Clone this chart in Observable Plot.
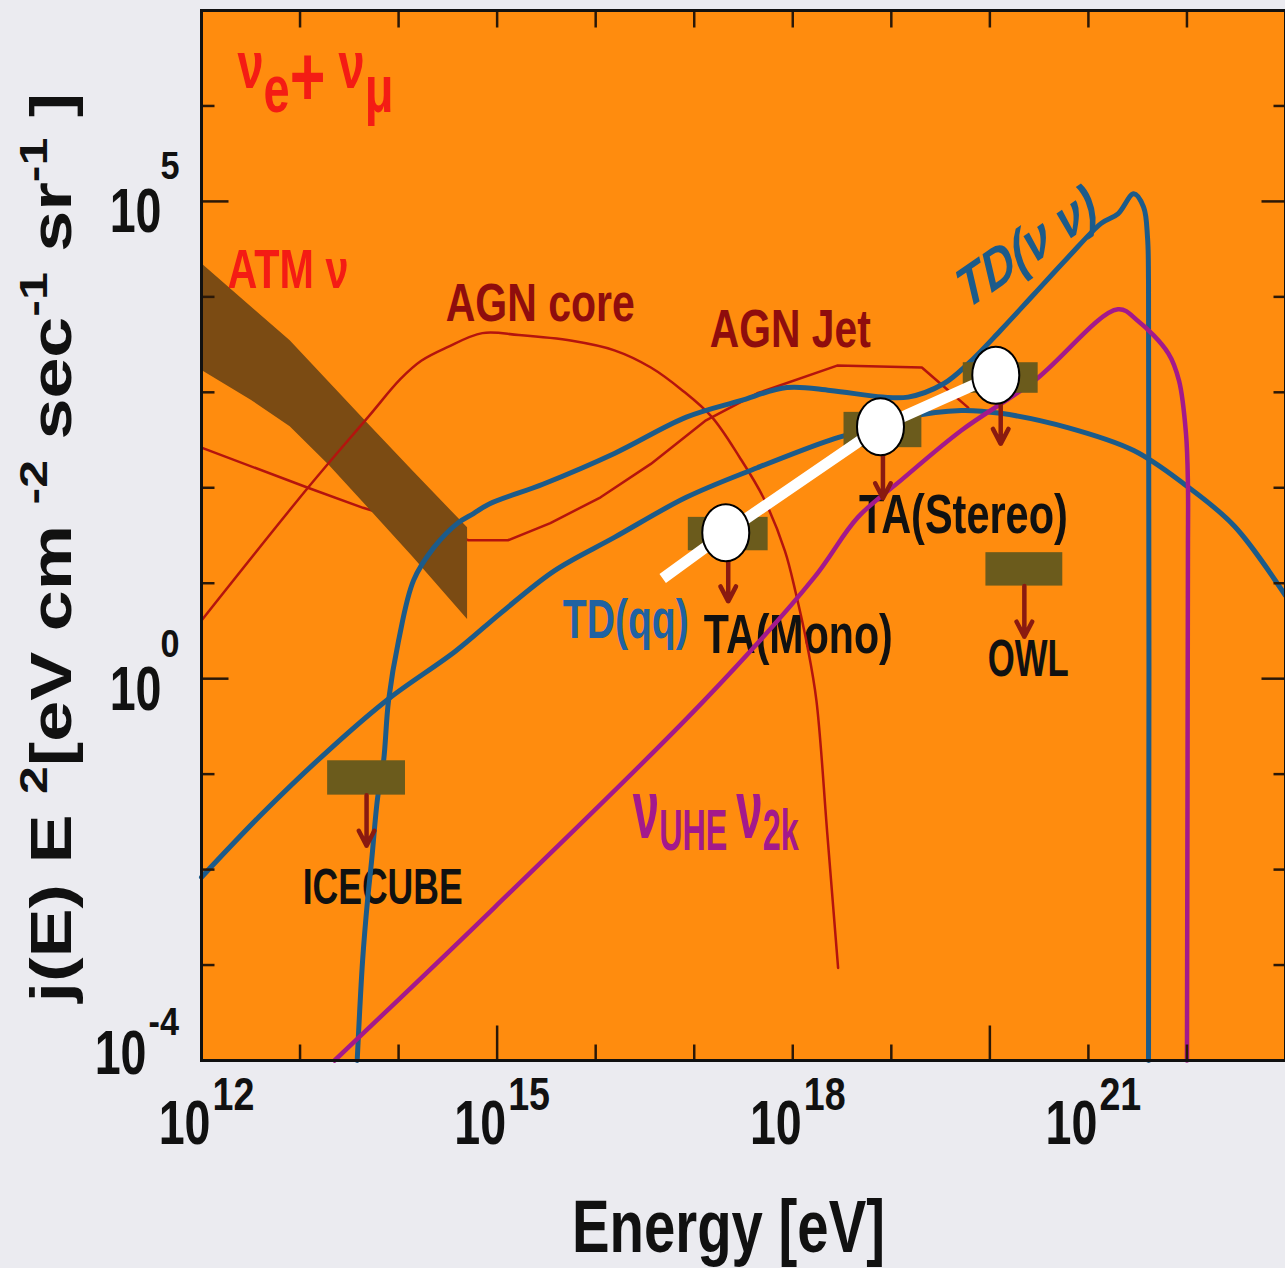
<!DOCTYPE html>
<html>
<head>
<meta charset="utf-8">
<script src="https://cdn.jsdelivr.net/npm/d3@7"></script>
<script src="https://cdn.jsdelivr.net/npm/@observablehq/plot@0.6"></script>
<style>
  html, body { margin: 0; padding: 0; background: #ebebf0; overflow: hidden; }
  #chart { width: 1285px; height: 1268px; }
</style>
</head>
<body>
<div id="chart"></div>
<script>
// ---------- DATA (log10 values: energy in eV, flux in eV cm^-2 s^-1 sr^-1) ----------
const atmE  = [12.0, 12.5, 12.9, 13.3, 13.7, 14.15, 14.7];
const atmHi = [4.35, 3.90, 3.54, 3.10, 2.66, 2.17, 1.58];
const atmLo = [3.23, 2.92, 2.64, 2.23, 1.78, 1.27, 0.62];

const agnCoreE = [12.0, 13.08, 13.69, 14.02, 14.23, 14.49, 14.85, 15.22, 15.76, 16.19, 16.56, 16.88, 17.18, 17.46, 17.70, 17.92, 18.03, 18.15, 18.24, 18.35, 18.46];
const agnCoreF = [0.61, 2.00, 2.74, 3.14, 3.33, 3.47, 3.62, 3.60, 3.54, 3.44, 3.26, 3.02, 2.74, 2.32, 1.90, 1.34, 0.90, 0.33, -0.23, -1.62, -3.03];

const agnJetE = [12.0, 13.08, 13.64, 14.71, 15.11, 15.54, 16.05, 16.56, 17.11, 17.64, 18.45, 19.31, 19.50, 19.78];
const agnJetF = [2.42, 2.00, 1.79, 1.45, 1.45, 1.63, 1.90, 2.25, 2.70, 2.99, 3.28, 3.26, 3.09, 2.84];

const tdNuE = [13.58, 13.635, 13.685, 13.726, 13.787, 13.848, 13.898, 14.0, 14.152, 14.355, 14.60, 14.76, 14.92, 15.47, 16.19, 16.92, 17.46, 17.94, 18.38, 18.91, 19.17, 19.53, 19.78, 20.11, 20.45, 20.79, 21.13, 21.30, 21.46, 21.56, 21.60, 21.61, 21.61];
const tdNuF = [-4.0, -2.95, -2.32, -1.91, -1.25, -0.86, -0.23, 0.40, 1.03, 1.37, 1.63, 1.73, 1.83, 2.04, 2.36, 2.74, 2.91, 3.05, 3.02, 2.95, 2.95, 3.09, 3.30, 3.65, 4.03, 4.41, 4.77, 4.87, 5.08, 4.94, 4.62, 4.14, -4.0];

const tdQqE = [12.0, 12.62, 13.29, 13.90, 14.58, 15.04, 15.58, 16.19, 16.92, 17.64, 18.38, 18.73, 19.17, 19.71, 20.11, 20.79, 21.46, 21.97, 22.48, 23.0];
const tdQqF = [-2.08, -1.41, -0.75, -0.21, 0.29, 0.69, 1.13, 1.48, 1.90, 2.21, 2.50, 2.60, 2.74, 2.81, 2.78, 2.63, 2.39, 2.04, 1.60, 0.87];

const uheE = [13.35, 14.97, 17.10, 18.21, 18.66, 19.10, 19.71, 20.45, 21.30, 21.50, 21.81, 21.92, 21.99, 22.01, 22.01, 22.0];
const uheF = [-4.0, -2.40, -0.23, 1.05, 1.69, 2.08, 2.60, 3.12, 3.87, 3.75, 3.41, 3.12, 2.57, 2.04, 1.34, -4.0];

const boxNames = ["ICECUBE", "TA(Mono)", "TA(Stereo)", "TA", "OWL"];
const boxE1 = [13.28, 16.94, 18.52, 19.73, 19.96];
const boxE2 = [14.07, 17.75, 19.31, 20.49, 20.74];
const boxF1 = [-1.22, 1.34, 2.42, 2.99, 0.97];
const boxF2 = [-0.86, 1.69, 2.79, 3.31, 1.32];

const whiteE = [16.68, 17.32, 18.89, 20.06];
const whiteF = [1.05, 1.53, 2.64, 3.18];
const circleE = [17.32, 18.89, 20.06];
const circleF = [1.53, 2.64, 3.18];

const labelText = ["ν_{e}*{+} ν_{μ}", "ATM ν", "AGN core", "AGN Jet", "TD(ν ν)", "TD(qq)", "TA(Mono)", "TA(Stereo)", "OWL", "ICECUBE", "ν_{UHE }ν_{2k}"];
const labelE = [12.365, 12.264, 15.437, 17.975, 20.376, 16.305, 18.056, 19.731, 20.39, 13.838, 16.376];
const labelF = [6.183, 4.098, 3.742, 3.48, 4.517, 0.431, 0.274, 1.521, 0.033, -2.356, -1.664];

const xTickExp = [12, 15, 18, 21];
const yTickExp = [5, 0];
const yTickExpLow = [-4];
const xDecades = [13, 14, 15, 16, 17, 18, 19, 20, 21, 22];
const xLongBottom = [15, 20];
const yDecades = [-3, -2, -1, 0, 1, 2, 3, 4, 5, 6];
const yLong = [0, 5];

const xTitle = "Energy [eV]";
const yTitle = "j(E) E ^{2}[eV cm ^{-2} sec^{-1} sr^{-1} ]";

// ---------- STYLE ----------
const FONT = "'Liberation Sans', Arial, Helvetica, sans-serif";
const ORANGE = "#ff8c0e", BROWN = "#7b4b13", LINE_RED = "#b4140e", BLUE = "#1c5b8a",
      PURPLE = "#a3198c", OLIVE = "#6b5b1c", ARROW = "#8a1a10", RED = "#f41c14",
      DRED = "#8f0d0d", TICK = "#2a1808";

const LS = [
  {fill: RED, size: 66, anchor: "start", width: 156, rich: {ratio: 1.0, sub: 0.36, big: 1.3, bigShift: -0.27}},
  {fill: RED, size: 56, anchor: "start", width: 121},
  {fill: DRED, size: 53, width: 189},
  {fill: DRED, size: 53, width: 161},
  {fill: BLUE, size: 58, italic: true, rotate: -28, line: "middle", sx: 0.77},
  {fill: "#1f62a2", size: 56, width: 126},
  {fill: "#111", size: 56, width: 189},
  {fill: "#111", size: 56, width: 209},
  {fill: "#111", size: 52, width: 81},
  {fill: "#111", size: 50, width: 160},
  {fill: PURPLE, size: 84, anchor: "start", width: 166, rich: {ratio: 0.68, sub: 0.15}}
];

// ---------- BUILD TABLES ----------
const p10 = v => Math.pow(10, v);
const series = (E, F) => E.map((e, i) => ({e: p10(e), f: p10(F[i])}));
const atm = atmE.map((e, i) => ({e: p10(e), lo: p10(atmLo[i]), hi: p10(atmHi[i])}));
const core = series(agnCoreE, agnCoreF);
const jet = series(agnJetE, agnJetF);
const tdNu = series(tdNuE, tdNuF);
const tdQq = series(tdQqE, tdQqF);
const uhe = series(uheE, uheF);
const white = series(whiteE, whiteF);
const circles = series(circleE, circleF);
const boxes = boxNames.map((n, i) => ({
  name: n, e1: p10(boxE1[i]), e2: p10(boxE2[i]), f1: p10(boxF1[i]), f2: p10(boxF2[i]),
  ec: p10((boxE1[i] + boxE2[i]) / 2), tip: p10(boxF1[i] - 0.53)
}));
const labels = labelText.map((t, i) => ({t, e: p10(labelE[i]), f: p10(labelF[i])}));

// custom symbols
const tick = (dx, dy) => ({draw(ctx) { ctx.moveTo(0, 0); ctx.lineTo(dx, dy); }});
const ellipse = (rx, ry) => ({draw(ctx) {
  const k = 0.5523;
  ctx.moveTo(rx, 0);
  ctx.bezierCurveTo(rx, ry * k, rx * k, ry, 0, ry);
  ctx.bezierCurveTo(-rx * k, ry, -rx, ry * k, -rx, 0);
  ctx.bezierCurveTo(-rx, -ry * k, -rx * k, -ry, 0, -ry);
  ctx.bezierCurveTo(rx * k, -ry, rx, -ry * k, rx, 0);
  ctx.closePath();
}});

const tickStyle = {r: 5, fill: "none", stroke: TICK, strokeWidth: 2.5};
const notIn = arr => v => !arr.includes(v);

const chart = Plot.plot({
  width: 1285, height: 1268,
  marginLeft: 201, marginRight: 0, marginTop: 10, marginBottom: 208,
  x: {type: "log", domain: [1e12, 1e23], axis: null},
  y: {type: "log", domain: [1e-4, 1e7], axis: null},
  style: {background: "#ebebf0", fontFamily: FONT, overflow: "visible"},
  marks: [
    Plot.frame({fill: ORANGE}),
    ...labels.map((d, i) => Plot.text([d], {
      x: "e", y: "f", text: "t", fill: LS[i].fill, fontSize: LS[i].size, fontWeight: "bold",
      fontStyle: LS[i].italic ? "italic" : "normal", textAnchor: LS[i].anchor || "middle",
      lineAnchor: LS[i].line || "bottom", rotate: LS[i].rotate || 0, fontFamily: FONT,
      ariaDescription: "lab" + i
    })),
    Plot.line(jet, {x: "e", y: "f", stroke: LINE_RED, strokeWidth: 2.5}),
    Plot.areaY(atm, {x: "e", y1: "lo", y2: "hi", fill: BROWN}),
    Plot.line(core, {x: "e", y: "f", stroke: LINE_RED, strokeWidth: 2.5, curve: "catmull-rom"}),
    Plot.line(tdQq, {x: "e", y: "f", stroke: BLUE, strokeWidth: 5, curve: "catmull-rom"}),
    Plot.line(tdNu, {x: "e", y: "f", stroke: BLUE, strokeWidth: 5, curve: "catmull-rom", strokeLinejoin: "round"}),
    Plot.line(uhe, {x: "e", y: "f", stroke: PURPLE, strokeWidth: 4.5, curve: "catmull-rom", strokeLinejoin: "round"}),
    Plot.rect(boxes, {x1: "e1", x2: "e2", y1: "f1", y2: "f2", fill: OLIVE}),
    Plot.arrow(boxes, {x1: "ec", x2: "ec", y1: "f1", y2: "tip", stroke: ARROW, strokeWidth: 4.5, headLength: 16, headAngle: 55}),
    Plot.line(white, {x: "e", y: "f", stroke: "white", strokeWidth: 11, strokeLinecap: "butt"}),
    Plot.dot(circles, {x: "e", y: "f", symbol: ellipse(23.5, 28.5), r: 10, fill: "white", stroke: "black", strokeWidth: 2}),
    // inward ticks
    Plot.dot(xDecades.filter(notIn(xLongBottom)), {x: d => p10(d), frameAnchor: "bottom", symbol: tick(0, -16), ...tickStyle}),
    Plot.dot(xLongBottom, {x: d => p10(d), frameAnchor: "bottom", symbol: tick(0, -35), ...tickStyle}),
    Plot.dot(xDecades, {x: d => p10(d), frameAnchor: "top", symbol: tick(0, 17), ...tickStyle}),
    Plot.dot(yDecades.filter(notIn(yLong)), {y: d => p10(d), frameAnchor: "left", symbol: tick(13, 0), ...tickStyle}),
    Plot.dot(yLong, {y: d => p10(d), frameAnchor: "left", symbol: tick(27, 0), ...tickStyle}),
    Plot.dot(yDecades.filter(notIn(yLong)), {y: d => p10(d), frameAnchor: "right", symbol: tick(-12, 0), ...tickStyle}),
    Plot.dot(yLong, {y: d => p10(d), frameAnchor: "right", symbol: tick(-24, 0), ...tickStyle}),
    Plot.frame({stroke: "#111", strokeWidth: 3}),
    // tick labels
    Plot.text(xTickExp, {x: d => p10(d), frameAnchor: "bottom", text: () => "10", textAnchor: "end", lineAnchor: "bottom", dx: 9, dy: 83, fontSize: 63, fontWeight: "bold", fill: "#111", ariaDescription: "tb"}),
    Plot.text(xTickExp, {x: d => p10(d), frameAnchor: "bottom", text: d => String(d), textAnchor: "start", lineAnchor: "bottom", dx: 11, dy: 49, fontSize: 47, fontWeight: "bold", fill: "#111", ariaDescription: "txe"}),
    Plot.text(yTickExp, {y: d => p10(d), frameAnchor: "left", text: () => "10", textAnchor: "end", lineAnchor: "bottom", dx: -40, dy: 31, fontSize: 63, fontWeight: "bold", fill: "#111", ariaDescription: "tb"}),
    Plot.text(yTickExp, {y: d => p10(d), frameAnchor: "left", text: d => String(d), textAnchor: "start", lineAnchor: "bottom", dx: -41, dy: -22, fontSize: 38, fontWeight: "bold", fill: "#111", ariaDescription: "tye"}),
    Plot.text(yTickExpLow, {y: d => p10(d), frameAnchor: "left", text: () => "10", textAnchor: "end", lineAnchor: "bottom", dx: -55, dy: 13, fontSize: 63, fontWeight: "bold", fill: "#111", ariaDescription: "tb"}),
    Plot.text(yTickExpLow, {y: d => p10(d), frameAnchor: "left", text: d => String(d), textAnchor: "start", lineAnchor: "bottom", dx: -53, dy: -26, fontSize: 38, fontWeight: "bold", fill: "#111", ariaDescription: "tye"}),
    // axis titles
    Plot.text([xTitle], {frameAnchor: "bottom", text: d => d, textAnchor: "middle", lineAnchor: "bottom", dx: -15, dy: 191, fontSize: 74, fontWeight: "bold", fill: "#111", ariaDescription: "xt"}),
    Plot.text([yTitle], {frameAnchor: "bottom-left", text: d => d, textAnchor: "start", lineAnchor: "bottom", rotate: -90, dx: -131, dy: -58, fontSize: 74, fontWeight: "bold", fill: "#111", ariaDescription: "yt"})
  ]
});

document.getElementById("chart").append(chart);

// ---------- TEXT POST-PROCESSING (super/subscripts, condensed type) ----------
const svg = d3.select(chart);
const byDesc = k => svg.selectAll("g").filter(function () { return this.getAttribute("aria-description") === k; }).selectAll("text");

function squeeze(el, sx, sy = 1) {
  const t = el.getAttribute("transform") || "";
  const m = t.match(/^\s*translate\([^)]*\)/);
  if (m) el.setAttribute("transform", `${m[0]} scale(${sx},${sy})${t.slice(m[0].length)}`);
  else {
    const x = +el.getAttribute("x") || 0, y = +el.getAttribute("y") || 0;
    el.removeAttribute("x"); el.removeAttribute("y");
    el.setAttribute("transform", `translate(${x},${y}) scale(${sx},${sy}) ${t}`);
  }
}

function richText(el, {ratio = 0.7, sup = 0.42, sub = 0.25, big = 1.4, bigShift = 0} = {}) {
  const src = el.textContent;
  const fs = parseFloat(getComputedStyle(el).fontSize);
  const parts = [];
  const re = /([\^_*])\{([^}]*)\}/g;
  let last = 0, m;
  while ((m = re.exec(src))) {
    if (m.index > last) parts.push({t: src.slice(last, m.index), k: 0});
    parts.push({t: m[2], k: m[1]});
    last = re.lastIndex;
  }
  if (last < src.length) parts.push({t: src.slice(last), k: 0});
  el.textContent = "";
  let cur = 0;
  for (const p of parts) {
    const off = p.k === "^" ? -sup * fs : p.k === "_" ? sub * fs : p.k === "*" ? -bigShift * fs : 0;
    const ts = d3.select(el).append("tspan").attr("dy", off - cur).text(p.t);
    if (p.k === "^" || p.k === "_") ts.attr("font-size", fs * ratio);
    if (p.k === "*") ts.attr("font-size", fs * big);
    cur = off;
  }
}

byDesc("tb").each(function () { squeeze(this, 0.74); });
byDesc("txe").each(function () { squeeze(this, 0.8); });
byDesc("tye").each(function () { squeeze(this, 0.9); });

LS.forEach((s, i) => {
  byDesc("lab" + i).each(function () {
    if (s.rich) richText(this, s.rich);
    const sx = s.width ? s.width / this.getBBox().width : (s.sx || 0.77);
    squeeze(this, sx);
  });
});

byDesc("xt").each(function () { squeeze(this, 313 / this.getBBox().width); });
byDesc("yt").each(function () {
  richText(this, {ratio: 0.68, sup: 0.42});
  squeeze(this, 0.77, 912 / this.getBBox().width);
});
</script>
</body>
</html>
